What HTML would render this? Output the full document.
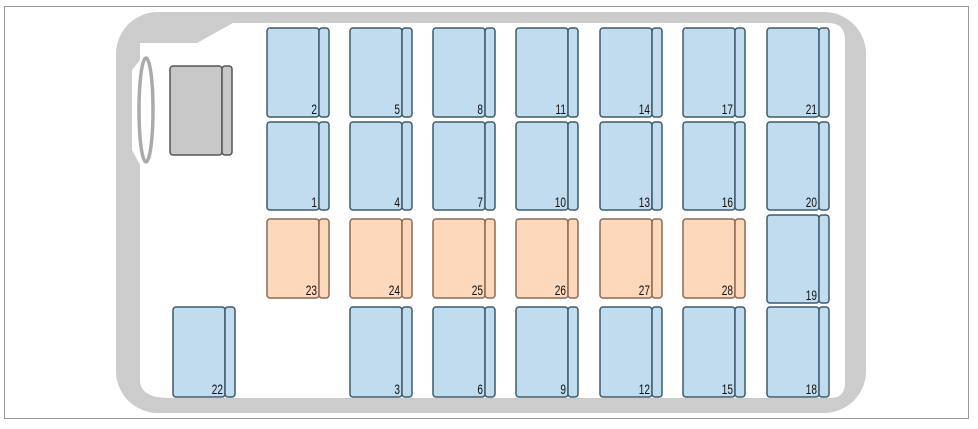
<!DOCTYPE html>
<html><head><style>
body{margin:0;background:#fff;width:978px;height:429px;overflow:hidden}
svg{display:block}
text{font-family:"Liberation Sans Narrow","Liberation Sans",sans-serif;font-size:14px;fill:#111;text-anchor:end}
</style></head><body>
<svg width="978" height="429" viewBox="0 0 978 429">
<rect x="4.5" y="6.5" width="964" height="412" fill="#fff" stroke="#999" stroke-width="1"/>
<rect x="116" y="12" width="750" height="401" rx="42" fill="#cccccc"/>
<path d="M140 43 L197 43 L233 23 L828 23 Q845 23 845 40 L845 383 Q845 398 830 398 L170 398 Q140 398 140 380 L140 165 L132 150 L132 70 L140 60 Z" fill="#fff"/>
<ellipse cx="146" cy="110" rx="7" ry="52" fill="none" stroke="#aaa" stroke-width="3.5"/>
<g stroke="#555" stroke-width="1.5">
<rect x="170" y="66" width="52" height="89" rx="3" fill="#c8c8c8"/>
<rect x="222" y="66" width="10" height="89" rx="3" fill="#c8c8c8"/>
</g>
<g id="seats" stroke="#3d5a6a" stroke-width="1.5"></g>
<g id="labels"></g>
</svg>
<script>
(function(){
var xs=[267,350,433,516,600,683,767];
var seats=[];
var r1=[2,5,8,11,14,17,21],r2=[1,4,7,10,13,16,20],orr=[23,24,25,26,27,28],bot=[null,3,6,9,12,15,18];
for(var i=0;i<7;i++){
seats.push([xs[i],28,89,r1[i],0]);
seats.push([xs[i],122,88,r2[i],0]);
if(i<6)seats.push([xs[i],219,79,orr[i],1]);else seats.push([xs[i],215,88,19,0]);
if(bot[i])seats.push([xs[i],307,90,bot[i],0]);
}
seats.push([173,307,90,22,0]);
var g=document.getElementById('seats'),l=document.getElementById('labels'),ns="http://www.w3.org/2000/svg";
seats.forEach(function(s){
var fill=s[4]?"#fdd8bb":"#c0dcee",st=s[4]?"#8a6a55":"#3d5a6a";
var a=document.createElementNS(ns,'rect');a.setAttribute('x',s[0]);a.setAttribute('y',s[1]);a.setAttribute('width',52);a.setAttribute('height',s[2]);a.setAttribute('rx',3);a.setAttribute('fill',fill);a.setAttribute('stroke',st);g.appendChild(a);
var b=document.createElementNS(ns,'rect');b.setAttribute('x',s[0]+52);b.setAttribute('y',s[1]);b.setAttribute('width',10);b.setAttribute('height',s[2]);b.setAttribute('rx',3);b.setAttribute('fill',fill);b.setAttribute('stroke',st);g.appendChild(b);
var t=document.createElementNS(ns,'text');
t.setAttribute('transform','translate('+(s[0]+50)+','+(s[1]+s[2]-3)+') scale(0.72,1)');
t.setAttribute('x',0);t.setAttribute('y',0);t.textContent=s[3];l.appendChild(t);
});
})();
</script>
</body></html>
